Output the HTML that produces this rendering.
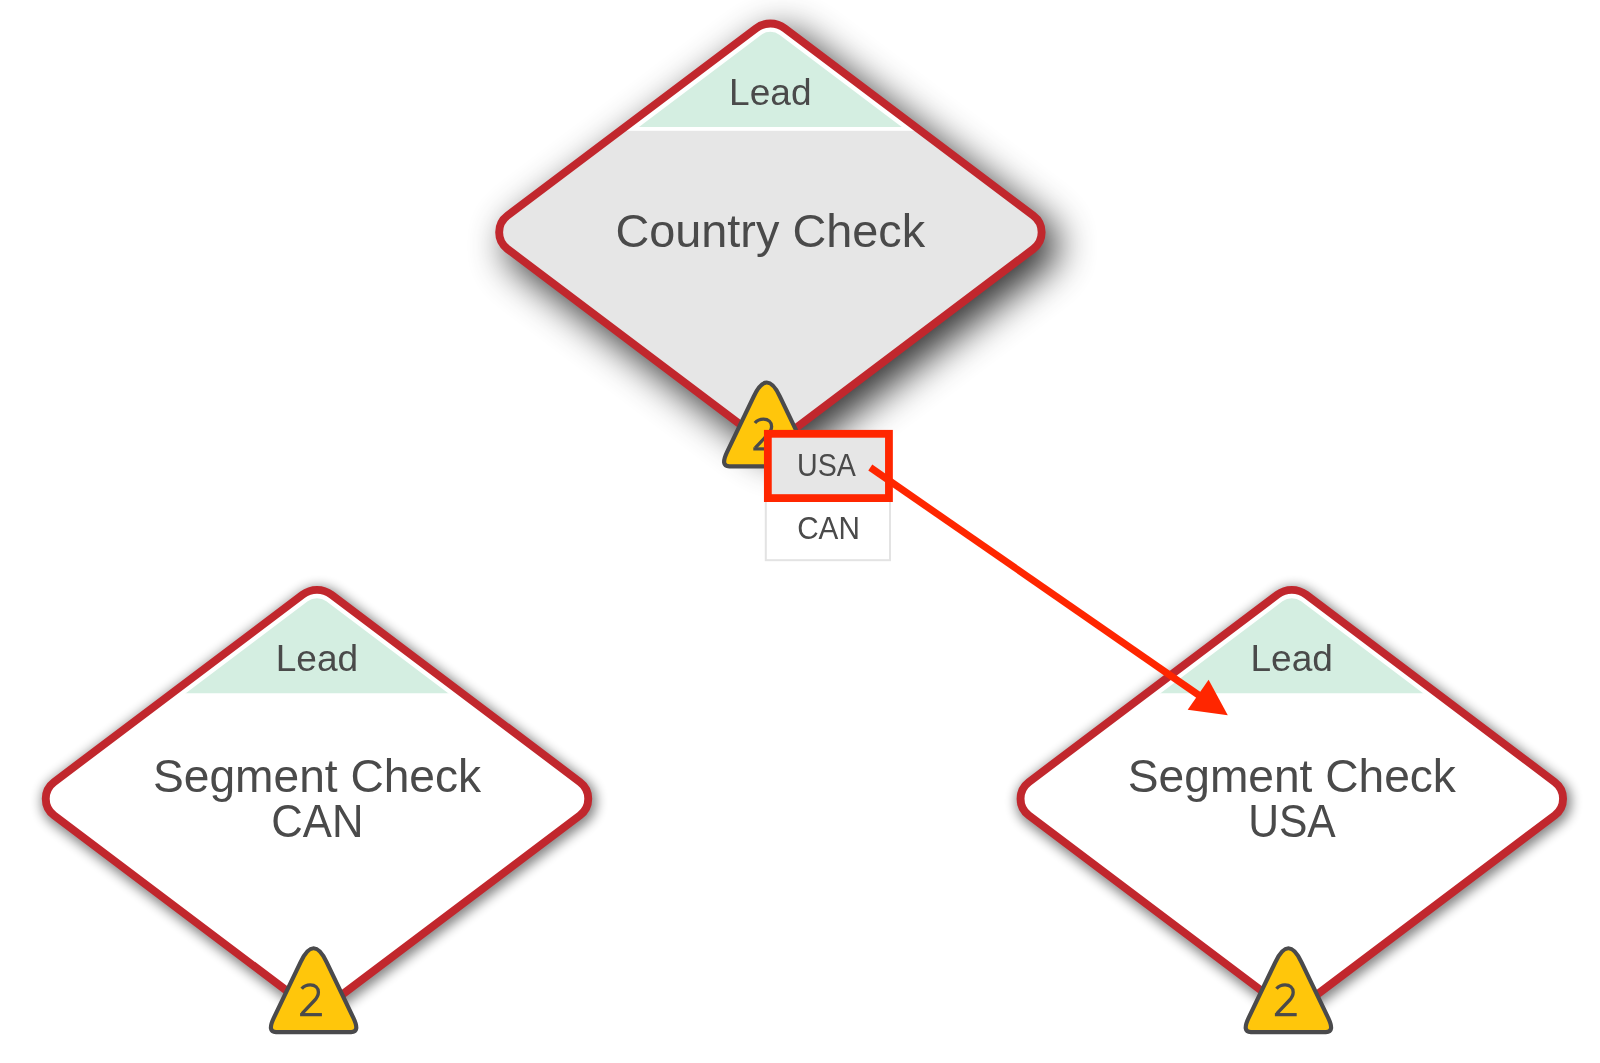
<!DOCTYPE html><html><head><meta charset="utf-8"><style>
html,body{margin:0;padding:0;background:#fff;width:1600px;height:1063px;overflow:hidden}
svg{position:absolute;left:0;top:0;will-change:transform}
text{font-family:"Liberation Sans",sans-serif}
</style></head><body>
<svg width="1600" height="1063" viewBox="0 0 1600 1063">

<clipPath id="cin1"><path d="M302.64,594.67 A23.85,23.85 0 0 1 331.36,594.67 L579.95,782.05 A20.85,20.85 0 0 1 579.95,815.35 L331.36,1002.73 A23.85,23.85 0 0 1 302.64,1002.73 L54.05,815.35 A20.85,20.85 0 0 1 54.05,782.05 Z"/></clipPath>
<clipPath id="cband1"><rect x="17.0" y="565.85" width="600" height="127.5"/></clipPath>
<g filter="url(#blur1)" opacity="0.48"><path d="M302.64,594.67 A23.85,23.85 0 0 1 331.36,594.67 L579.95,782.05 A20.85,20.85 0 0 1 579.95,815.35 L331.36,1002.73 A23.85,23.85 0 0 1 302.64,1002.73 L54.05,815.35 A20.85,20.85 0 0 1 54.05,782.05 Z" fill="#000" stroke="#000" stroke-width="12.9" stroke-linejoin="round" transform="translate(2.0,3.0)"/></g>
<filter id="blur1" x="-30%" y="-30%" width="160%" height="160%"><feGaussianBlur stdDeviation="6.0"/></filter>
<path d="M302.64,594.67 A23.85,23.85 0 0 1 331.36,594.67 L579.95,782.05 A20.85,20.85 0 0 1 579.95,815.35 L331.36,1002.73 A23.85,23.85 0 0 1 302.64,1002.73 L54.05,815.35 A20.85,20.85 0 0 1 54.05,782.05 Z" fill="#fff"/>
<g clip-path="url(#cin1)"><rect x="17.0" y="565.85" width="600" height="131.29999999999995" fill="#fff"/></g>
<path d="M307.67,601.34 A15.50,15.50 0 0 1 326.33,601.34 L574.92,788.72 A12.50,12.50 0 0 1 574.92,808.68 L326.33,996.06 A15.50,15.50 0 0 1 307.67,996.06 L59.08,808.68 A12.50,12.50 0 0 1 59.08,788.72 Z" fill="#d4eee1" clip-path="url(#cband1)"/>
<path d="M302.64,594.67 A23.85,23.85 0 0 1 331.36,594.67 L579.95,782.05 A20.85,20.85 0 0 1 579.95,815.35 L331.36,1002.73 A23.85,23.85 0 0 1 302.64,1002.73 L54.05,815.35 A20.85,20.85 0 0 1 54.05,782.05 Z" fill="none" stroke="#c1272d" stroke-width="7.9"/>
<text transform="translate(316.90,671.05) scale(1.0150,1.0000)" font-size="36.5" fill="#4a4a4a" text-anchor="middle" >Lead</text>
<text transform="translate(317.08,791.75) scale(1.0030,1.0000)" font-size="46" fill="#4a4a4a" text-anchor="middle" >Segment Check</text>
<text transform="translate(317.35,836.75) scale(0.9500,1.0000)" font-size="46" fill="#4a4a4a" text-anchor="middle" >CAN</text>
<g transform="translate(313.60,946.45)">
<path d="M-13.0,15.6 Q0,-12.0 13.0,15.6 L39.67,71.18 Q46.6,85.6 37.6,85.6 L-37.6,85.6 Q-46.6,85.6 -39.67,71.18 Z" fill="#ffc60b" stroke="#4a4a4c" stroke-width="4.2" stroke-linejoin="round"/>
<path d="M-11.3,42.3 C-9.3,39.8 -6.4,38.4 -2.7,38.4 C2.2,38.4 5.4,41.3 5.4,45.7 C5.4,48.9 4.0,51.3 1.2,54.3 L-11.0,67.2" transform="translate(-0.6,0)" fill="none" stroke="#4a4a4a" stroke-width="3.3" stroke-linecap="butt"/>
<rect x="-13.5" y="66.6" width="21.8" height="3.2" fill="#4a4a4a"/>
</g>
<clipPath id="cin2"><path d="M1277.44,594.67 A23.85,23.85 0 0 1 1306.16,594.67 L1554.75,782.05 A20.85,20.85 0 0 1 1554.75,815.35 L1306.16,1002.73 A23.85,23.85 0 0 1 1277.44,1002.73 L1028.85,815.35 A20.85,20.85 0 0 1 1028.85,782.05 Z"/></clipPath>
<clipPath id="cband2"><rect x="991.8" y="565.85" width="600" height="127.5"/></clipPath>
<g filter="url(#blur2)" opacity="0.48"><path d="M1277.44,594.67 A23.85,23.85 0 0 1 1306.16,594.67 L1554.75,782.05 A20.85,20.85 0 0 1 1554.75,815.35 L1306.16,1002.73 A23.85,23.85 0 0 1 1277.44,1002.73 L1028.85,815.35 A20.85,20.85 0 0 1 1028.85,782.05 Z" fill="#000" stroke="#000" stroke-width="12.9" stroke-linejoin="round" transform="translate(2.0,3.0)"/></g>
<filter id="blur2" x="-30%" y="-30%" width="160%" height="160%"><feGaussianBlur stdDeviation="6.0"/></filter>
<path d="M1277.44,594.67 A23.85,23.85 0 0 1 1306.16,594.67 L1554.75,782.05 A20.85,20.85 0 0 1 1554.75,815.35 L1306.16,1002.73 A23.85,23.85 0 0 1 1277.44,1002.73 L1028.85,815.35 A20.85,20.85 0 0 1 1028.85,782.05 Z" fill="#fff"/>
<g clip-path="url(#cin2)"><rect x="991.8" y="565.85" width="600" height="131.29999999999995" fill="#fff"/></g>
<path d="M1282.47,601.34 A15.50,15.50 0 0 1 1301.13,601.34 L1549.72,788.72 A12.50,12.50 0 0 1 1549.72,808.68 L1301.13,996.06 A15.50,15.50 0 0 1 1282.47,996.06 L1033.88,808.68 A12.50,12.50 0 0 1 1033.88,788.72 Z" fill="#d4eee1" clip-path="url(#cband2)"/>
<path d="M1277.44,594.67 A23.85,23.85 0 0 1 1306.16,594.67 L1554.75,782.05 A20.85,20.85 0 0 1 1554.75,815.35 L1306.16,1002.73 A23.85,23.85 0 0 1 1277.44,1002.73 L1028.85,815.35 A20.85,20.85 0 0 1 1028.85,782.05 Z" fill="none" stroke="#c1272d" stroke-width="7.9"/>
<text transform="translate(1291.70,671.05) scale(1.0150,1.0000)" font-size="36.5" fill="#4a4a4a" text-anchor="middle" >Lead</text>
<text transform="translate(1291.88,791.75) scale(1.0030,1.0000)" font-size="46" fill="#4a4a4a" text-anchor="middle" >Segment Check</text>
<text transform="translate(1291.95,836.75) scale(0.9256,1.0000)" font-size="46" fill="#4a4a4a" text-anchor="middle" >USA</text>
<g transform="translate(1288.40,946.45)">
<path d="M-13.0,15.6 Q0,-12.0 13.0,15.6 L39.67,71.18 Q46.6,85.6 37.6,85.6 L-37.6,85.6 Q-46.6,85.6 -39.67,71.18 Z" fill="#ffc60b" stroke="#4a4a4c" stroke-width="4.2" stroke-linejoin="round"/>
<path d="M-11.3,42.3 C-9.3,39.8 -6.4,38.4 -2.7,38.4 C2.2,38.4 5.4,41.3 5.4,45.7 C5.4,48.9 4.0,51.3 1.2,54.3 L-11.0,67.2" transform="translate(-0.6,0)" fill="none" stroke="#4a4a4a" stroke-width="3.3" stroke-linecap="butt"/>
<rect x="-13.5" y="66.6" width="21.8" height="3.2" fill="#4a4a4a"/>
</g>
<clipPath id="cin0"><path d="M756.04,28.32 A23.85,23.85 0 0 1 784.76,28.32 L1033.35,215.70 A20.85,20.85 0 0 1 1033.35,249.00 L784.76,436.38 A23.85,23.85 0 0 1 756.04,436.38 L507.45,249.00 A20.85,20.85 0 0 1 507.45,215.70 Z"/></clipPath>
<clipPath id="cband0"><rect x="470.4" y="-0.5" width="600" height="127.5"/></clipPath>
<g filter="url(#blur0)" opacity="0.8"><path d="M756.04,28.32 A23.85,23.85 0 0 1 784.76,28.32 L1033.35,215.70 A20.85,20.85 0 0 1 1033.35,249.00 L784.76,436.38 A23.85,23.85 0 0 1 756.04,436.38 L507.45,249.00 A20.85,20.85 0 0 1 507.45,215.70 Z" fill="#000" stroke="#000" stroke-width="9.9" stroke-linejoin="round" transform="translate(12.0,13.0)"/></g>
<filter id="blur0" x="-30%" y="-30%" width="160%" height="160%"><feGaussianBlur stdDeviation="19.0"/></filter>
<path d="M756.04,28.32 A23.85,23.85 0 0 1 784.76,28.32 L1033.35,215.70 A20.85,20.85 0 0 1 1033.35,249.00 L784.76,436.38 A23.85,23.85 0 0 1 756.04,436.38 L507.45,249.00 A20.85,20.85 0 0 1 507.45,215.70 Z" fill="#e6e6e6"/>
<g clip-path="url(#cin0)"><rect x="470.4" y="-0.5" width="600" height="131.3" fill="#fff"/></g>
<path d="M761.07,34.99 A15.50,15.50 0 0 1 779.73,34.99 L1028.32,222.37 A12.50,12.50 0 0 1 1028.32,242.33 L779.73,429.71 A15.50,15.50 0 0 1 761.07,429.71 L512.48,242.33 A12.50,12.50 0 0 1 512.48,222.37 Z" fill="#d4eee1" clip-path="url(#cband0)"/>
<path d="M756.04,28.32 A23.85,23.85 0 0 1 784.76,28.32 L1033.35,215.70 A20.85,20.85 0 0 1 1033.35,249.00 L784.76,436.38 A23.85,23.85 0 0 1 756.04,436.38 L507.45,249.00 A20.85,20.85 0 0 1 507.45,215.70 Z" fill="none" stroke="#c1272d" stroke-width="7.9"/>
<text transform="translate(770.30,104.70) scale(1.0150,1.0000)" font-size="36.5" fill="#4a4a4a" text-anchor="middle" >Lead</text>
<text transform="translate(770.25,247.40) scale(1.0076,1.0000)" font-size="46.5" fill="#4a4a4a" text-anchor="middle" >Country Check</text>
<g transform="translate(766.80,380.70)">
<path d="M-13.0,15.6 Q0,-12.0 13.0,15.6 L39.67,71.18 Q46.6,85.6 37.6,85.6 L-37.6,85.6 Q-46.6,85.6 -39.67,71.18 Z" fill="#ffc60b" stroke="#4a4a4c" stroke-width="4.2" stroke-linejoin="round"/>
<path d="M-11.3,42.3 C-9.3,39.8 -6.4,38.4 -2.7,38.4 C2.2,38.4 5.4,41.3 5.4,45.7 C5.4,48.9 4.0,51.3 1.2,54.3 L-11.0,67.2" transform="translate(-0.6,0)" fill="none" stroke="#4a4a4a" stroke-width="3.3" stroke-linecap="butt"/>
<rect x="-13.5" y="66.6" width="21.8" height="3.2" fill="#4a4a4a"/>
</g>
<rect x="765.8" y="432" width="124.2" height="128.2" fill="#fff" stroke="#e3e3e3" stroke-width="2"/>
<rect x="767.45" y="433.75" width="121.7" height="64.5" fill="#e6e6e6"/>
<text transform="translate(826.50,475.90) scale(0.9390,1.0000)" font-size="30.5" fill="#4a4a4a" text-anchor="middle" >USA</text>
<text transform="translate(828.50,539.00) scale(0.9730,1.0000)" font-size="30.5" fill="#4a4a4a" text-anchor="middle" >CAN</text>
<rect x="767.85" y="433.8" width="121.1" height="64.3" fill="none" stroke="#ff2600" stroke-width="7.8"/>
<line x1="870.3" y1="467.5" x2="1200" y2="696" stroke="#ff2600" stroke-width="7"/>
<polygon points="1227.8,715.3 1187.7,709.7 1208.6,679.8" fill="#ff2600"/>
</svg></body></html>
